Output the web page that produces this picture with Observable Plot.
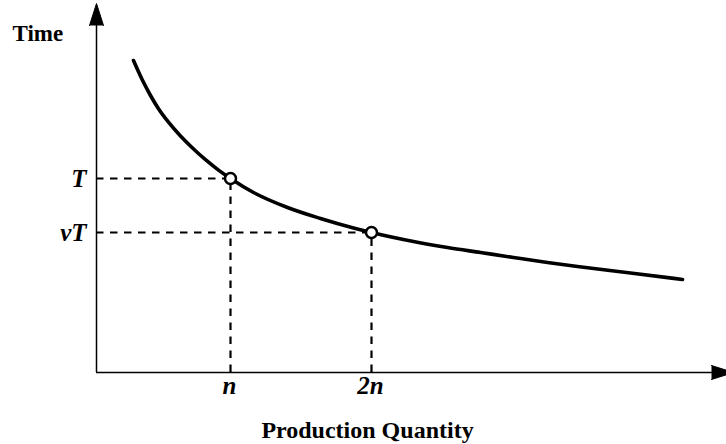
<!DOCTYPE html>
<html>
<head>
<meta charset="utf-8">
<script src="https://cdn.jsdelivr.net/npm/d3@7"></script>
<script src="https://cdn.jsdelivr.net/npm/@observablehq/plot@0.6"></script>
<style>
  html, body { margin: 0; padding: 0; background: #fff; }
  svg { display: block; }
</style>
</head>
<body>
<div id="chart"></div>
<script>
// Learning curve (arbitrary units: quantity, time)
const curveQuantity = [37, 46, 54, 62, 72, 84, 96, 109, 122, 134, 157, 191, 224, 257, 275, 317, 351, 384, 417, 451, 481, 534, 586];
const curveTime     = [312, 292.2, 277, 263.8, 250.3, 236.5, 224.5, 212.8, 202.4, 194, 180, 165, 154, 144.5, 140, 131, 125, 120, 115, 110, 106, 99.5, 93];

// Marked points
const markQuantity = [134, 275];
const markTime = [194, 140];
const xTickLabels = ["n", "2n"];
const yTickLabels = ["T", "\u03BDT"];

const xAxisTitle = "Production Quantity";
const yAxisTitle = "Time";

const xMax = 630, yMax = 369;

const curve = curveQuantity.map((q, i) => ({q, t: curveTime[i]}));
const marks = markQuantity.map((q, i) => ({q, t: markTime[i], xl: xTickLabels[i], yl: yTickLabels[i]}));

const arrowLen = 22, arrowHalf = 7;
const yArrow = [
  {x: -arrowHalf, y: yMax - arrowLen},
  {x: 0, y: yMax},
  {x: arrowHalf, y: yMax - arrowLen}
];
const xArrow = [
  {x: xMax - 15, y: arrowHalf},
  {x: xMax - 15 + arrowLen, y: 0},
  {x: xMax - 15, y: -arrowHalf}
];

const labelFont = "'Liberation Serif', 'Times New Roman', serif";
const titleFont = "'Liberation Serif', 'Times New Roman', serif";

const chart = Plot.plot({
  width: 726,
  height: 444,
  marginLeft: 96,
  marginRight: 0,
  marginTop: 3,
  marginBottom: 72,
  x: {domain: [0, xMax], axis: null},
  y: {domain: [0, yMax], axis: null},
  style: {background: "white", overflow: "visible"},
  marks: [
    // dashed guide lines
    Plot.ruleY(marks, {y: "t", x1: 0, x2: "q", stroke: "black", strokeWidth: 2.2, strokeDasharray: "7.5,6.5"}),
    Plot.ruleX(marks, {x: "q", y1: 0, y2: "t", stroke: "black", strokeWidth: 2.2, strokeDasharray: "7.5,6.5"}),
    // axes
    Plot.ruleX([0], {y1: 0, y2: yMax - 5, stroke: "black", strokeWidth: 1.5}),
    Plot.ruleY([0], {x1: 0, x2: xMax, stroke: "black", strokeWidth: 1.5}),
    Plot.line(yArrow, {x: "x", y: "y", fill: "black", stroke: "black", strokeWidth: 1}),
    Plot.line(xArrow, {x: "x", y: "y", fill: "black", stroke: "black", strokeWidth: 1}),
    // curve
    Plot.line(curve, {x: "q", y: "t", curve: "monotone-x", stroke: "black", strokeWidth: 3.6, strokeLinecap: "round"}),
    // points
    Plot.dot(marks, {x: "q", y: "t", r: 5.5, fill: "white", stroke: "black", strokeWidth: 2.5}),
    // tick labels
    Plot.text(marks, {x: 0, y: "t", text: "yl", dx: -10, textAnchor: "end", lineAnchor: "middle",
      fontSize: 25, fontStyle: "italic", fontWeight: "bold", fontFamily: labelFont, fill: "black"}),
    Plot.text(marks, {x: "q", y: 0, text: "xl", dy: 21, dx: -1, lineAnchor: "bottom",
      fontSize: 25, fontStyle: "italic", fontWeight: "bold", fontFamily: labelFont, fill: "black"}),
    // axis titles
    Plot.text([yAxisTitle], {x: 0, y: yMax, text: d => d, dx: -84, dy: 37, textAnchor: "start", lineAnchor: "bottom",
      fontSize: 23, fontWeight: "bold", fontFamily: titleFont, fill: "black"}),
    Plot.text([xAxisTitle], {x: xMax / 2 - 44, y: 0, text: d => d, dy: 65, lineAnchor: "bottom",
      fontSize: 24, fontWeight: "bold", fontFamily: titleFont, fill: "black"})
  ]
});
document.getElementById("chart").append(chart);
</script>
</body>
</html>
